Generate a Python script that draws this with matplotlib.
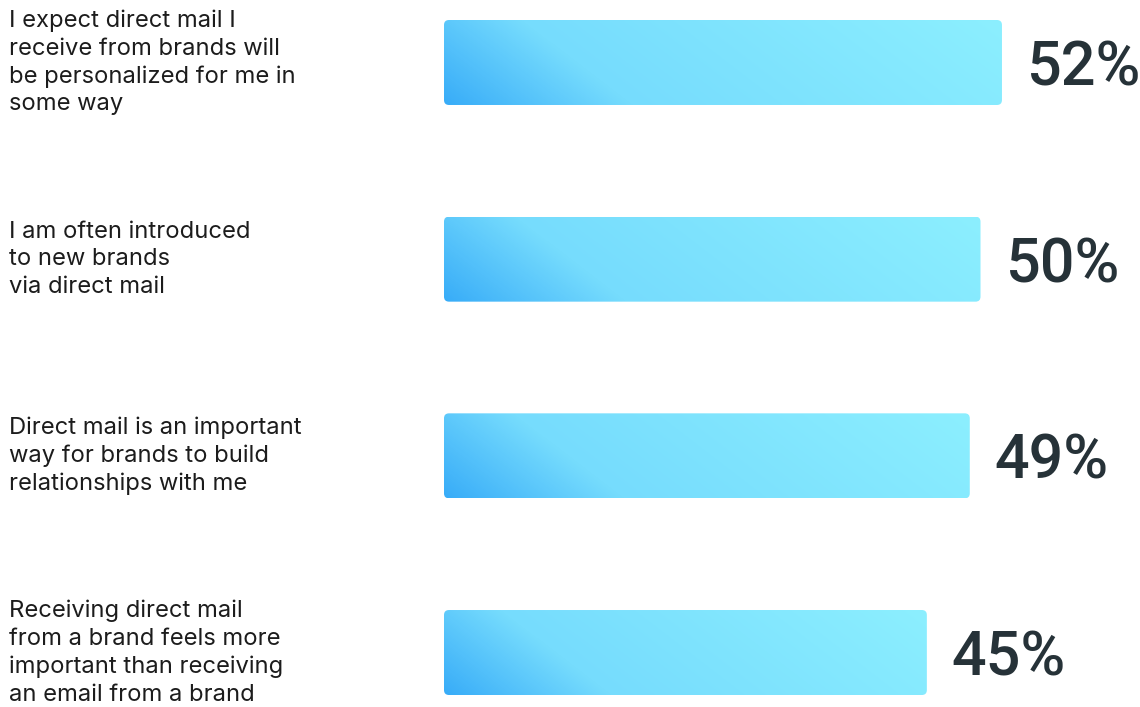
import numpy as np
import matplotlib.pyplot as plt
from matplotlib.colors import LinearSegmentedColormap
from matplotlib.patches import FancyBboxPatch
import matplotlib.transforms as mtransforms

# data
labels = [
    "I expect direct mail I\nreceive from brands will\nbe personalized for me in\nsome way",
    "I am often introduced\nto new brands\nvia direct mail",
    "Direct mail is an important\nway for brands to build\nrelationships with me",
    "Receiving direct mail\nfrom a brand feels more\nimportant than receiving\nan email from a brand",
]
values = [52, 50, 49, 45]

W, H = 1140, 707
fig = plt.figure(figsize=(W / 100, H / 100), dpi=100)
fig.patch.set_facecolor('white')

# axes from bar origin to right edge; 1% ~ 10.73 px
x0_px = 444
px_per_pct = 10.73
ax = fig.add_axes([x0_px / W, 0, 1 - x0_px / W, 1])
ax.set_xlim(0, (W - x0_px) / px_per_pct)
row_px = 196.7
ax.set_ylim(3 + (H - 652.5) / row_px, -62.5 / row_px)
ax.axis('off')

bar_h = 85 / row_px
bars = ax.barh(range(len(values)), values, height=bar_h, color='none')

cmap = LinearSegmentedColormap.from_list(
    'mailblue', [(0.0, '#38acf8'), (0.28, '#76dcfd'), (1.0, '#8cefff')])

r_px = 5
for rect in bars:
    x, y = rect.get_x(), rect.get_y()
    w, h = rect.get_width(), rect.get_height()
    wp, hp = int(w * px_per_pct), 85
    xx, yy = np.meshgrid(np.arange(wp), np.arange(hp))
    # diagonal gradient: dark at bottom-left, light toward top-right
    s = xx + 1.3 * yy
    s = s / s.max()
    patch = FancyBboxPatch((x, y), w, h,
                           boxstyle=f"round,pad=0,rounding_size={r_px / px_per_pct}",
                           mutation_aspect=(1 / row_px) / (1 / px_per_pct),
                           facecolor='none', edgecolor='none')
    ax.add_patch(patch)
    im = ax.imshow(s, cmap=cmap, extent=(x, x + w, y, y + h),
                   aspect='auto', interpolation='bilinear', origin='upper')
    im.set_clip_path(patch)

for i, v in enumerate(values):
    ax.text(v + 25 / px_per_pct, i, f"{v}%", va='center_baseline', ha='left',
            fontsize=44, color='#263238', fontweight='medium',
            family=['Roboto', 'DejaVu Sans'])

trans = mtransforms.blended_transform_factory(fig.transFigure, ax.transData)
for i, lab in enumerate(labels):
    ax.text(9 / W, i, lab, transform=trans, va='center', ha='left',
            fontsize=17.1, color='#1c1c1c', linespacing=1.33,
            family=['Inter', 'DejaVu Sans'])

fig.savefig('out.png', dpi=100, facecolor='white')
